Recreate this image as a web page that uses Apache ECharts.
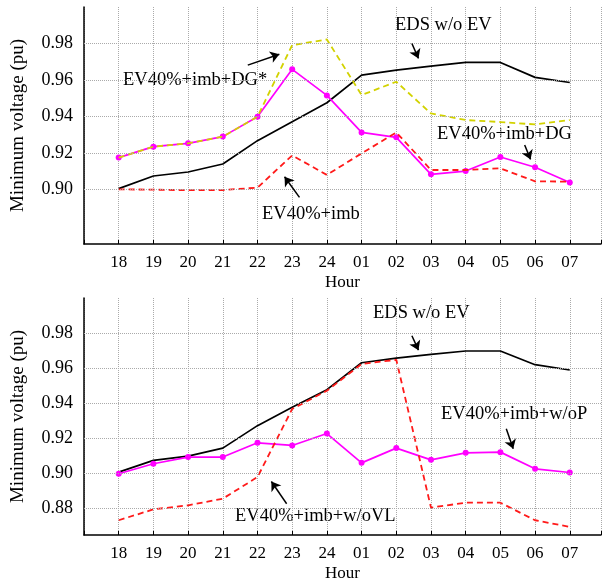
<!DOCTYPE html>
<html>
<head>
<meta charset="utf-8">
<title>Minimum voltage</title>
<script src="https://cdn.jsdelivr.net/npm/echarts@6/dist/echarts.min.js"></script>
<style>
  html, body { margin: 0; padding: 0; background: #fff; }
  #chart { width: 604px; height: 585px; }
</style>
</head>
<body>
<div id="chart"></div>
<script>
var hours = ['18','19','20','21','22','23','24','01','02','03','04','05','06','07'];

// top panel
var edsTop   = [0.9004,0.9073,0.9095,0.9139,0.9267,0.9371,0.9475,0.9626,0.9654,0.9676,0.9696,0.9696,0.9614,0.9586];
var imbDG    = [0.9174,0.9234,0.9252,0.9289,0.9398,0.9658,0.9515,0.9312,0.9285,0.9082,0.9100,0.9177,0.9121,0.9037];
var imbDGs   = [0.9174,0.9234,0.9252,0.9289,0.9398,0.9791,0.9822,0.9517,0.9590,0.9416,0.9380,0.9369,0.9356,0.9380];
var imb      = [0.9000,0.8998,0.8995,0.8996,0.9009,0.9186,0.9079,0.9197,0.9312,0.9106,0.9106,0.9115,0.9044,0.9042];

// bottom panel
var edsBot   = [0.9008,0.9075,0.9099,0.9145,0.9273,0.9378,0.9478,0.9631,0.9658,0.9679,0.9698,0.9698,0.9620,0.9590];
var imbWoP   = [0.8999,0.9056,0.9094,0.9094,0.9175,0.9160,0.9228,0.9061,0.9145,0.9078,0.9118,0.9122,0.9027,0.9006];
var imbWoVL  = [0.8734,0.8796,0.8819,0.8857,0.8980,0.9368,0.9472,0.9624,0.9648,0.8806,0.8834,0.8834,0.8734,0.8696];

var yTicksTop = [0.90, 0.92, 0.94, 0.96, 0.98];
var yTicksBot = [0.88, 0.90, 0.92, 0.94, 0.96, 0.98];

var FONT = 'Liberation Serif';
var pts = function (arr) { return arr.map(function (v, i) { return [i, v]; }); };

function yLabel(list) {
  return function (v) {
    for (var i = 0; i < list.length; i++) {
      if (Math.abs(list[i] - v) < 1e-6) return list[i].toFixed(2);
    }
    return '';
  };
}

function xAxisOf(idx) {
  return {
    type: 'value', gridIndex: idx, min: -1, max: 13.9, interval: 1,
    name: 'Hour', nameLocation: 'middle', nameGap: 30,
    nameTextStyle: { fontFamily: FONT, fontSize: 17, color: '#000' },
    axisLine: { onZero: false, lineStyle: { color: '#000', width: 1.5 } },
    axisTick: { inside: true, length: 4, lineStyle: { color: '#000' } },
    axisLabel: {
      fontFamily: FONT, fontSize: 17, color: '#000', margin: 10,
      formatter: function (v) { return hours[v] || ''; }
    },
    splitLine: { show: true, lineStyle: { type: 'dotted', color: '#aaa' } }
  };
}

function yAxisOf(idx, min, step, list) {
  return {
    type: 'value', gridIndex: idx, min: min, max: 1.0, interval: step,
    name: 'Minimum voltage (pu)', nameLocation: 'middle', nameGap: 56,
    nameTextStyle: { fontFamily: FONT, fontSize: 19, color: '#000' },
    axisLine: { show: true, onZero: false, lineStyle: { color: '#000', width: 1.5 } },
    axisTick: { show: false },
    axisLabel: { fontFamily: FONT, fontSize: 18, color: '#000', margin: 11, formatter: yLabel(list) },
    splitLine: { show: false }
  };
}

function gridLines(idx, list) {
  return {
    type: 'line', xAxisIndex: idx, yAxisIndex: idx, data: [], z: 1, silent: true,
    markLine: {
      silent: true, symbol: 'none', label: { show: false },
      lineStyle: { type: 'dotted', color: '#aaa', width: 1 },
      data: list.map(function (v) { return { yAxis: v }; })
    }
  };
}

function arrows(idx, list) {
  return {
    type: 'line', xAxisIndex: idx, yAxisIndex: idx, data: [], z: 5, silent: true,
    markLine: {
      silent: true, symbol: ['none', 'arrow'], symbolSize: 9, label: { show: false },
      lineStyle: { type: 'solid', color: '#000', width: 1.5 },
      data: list.map(function (a) { return [{ coord: a[0] }, { coord: a[1] }]; })
    }
  };
}

function solid(idx, data, color, marker) {
  return {
    type: 'line', xAxisIndex: idx, yAxisIndex: idx, data: pts(data), z: 3,
    symbol: marker ? 'circle' : 'none', symbolSize: 6, showSymbol: !!marker,
    itemStyle: { color: color }, lineStyle: { color: color, width: 1.7 },
    animation: false
  };
}

function dashed(idx, data, color) {
  return {
    type: 'line', xAxisIndex: idx, yAxisIndex: idx, data: pts(data), z: 4,
    symbol: 'none', lineStyle: { color: color, width: 1.8, type: [6, 4] },
    animation: false
  };
}

function note(x, y, text) {
  return { type: 'text', left: x, top: y, style: { text: text, font: '18.5px "' + FONT + '"', fill: '#000' } };
}

var chart = echarts.init(document.getElementById('chart'));
chart.setOption({
  animation: false,
  grid: [
    { left: 84, right: 0, top: 7, height: 237 },
    { left: 84, right: 0, top: 298, height: 237 }
  ],
  xAxis: [xAxisOf(0), xAxisOf(1)],
  yAxis: [yAxisOf(0, 0.87, 0.01, yTicksTop), yAxisOf(1, 0.865, 0.005, yTicksBot)],
  series: [
    gridLines(0, yTicksTop),
    gridLines(1, yTicksBot),
    dashed(0, imbDGs, '#d2d200'),
    dashed(0, imb, '#ff1a1a'),
    solid(0, edsTop, '#000000', false),
    solid(0, imbDG, '#ff00ff', true),
    dashed(1, imbWoVL, '#ff1a1a'),
    solid(1, edsBot, '#000000', false),
    solid(1, imbWoP, '#ff00ff', true),
    arrows(0, [
      [[3.72, 0.9681], [4.63, 0.9741]],
      [[8.45, 0.9800], [8.64, 0.9718]],
      [[11.70, 0.9243], [11.87, 0.9164]],
      [[5.21, 0.8956], [4.78, 0.9069]]
    ]),
    arrows(1, [
      [[8.45, 0.9785], [8.64, 0.9703]],
      [[11.17, 0.9255], [11.37, 0.9141]],
      [[4.84, 0.8828], [4.40, 0.8955]]
    ])
  ],
  graphic: [
    note(123, 71, 'EV40%+imb+DG*'),
    note(395, 16, 'EDS w/o EV'),
    note(437, 125, 'EV40%+imb+DG'),
    note(262, 205, 'EV40%+imb'),
    note(373, 304, 'EDS w/o EV'),
    note(441, 405, 'EV40%+imb+w/oP'),
    note(235, 507, 'EV40%+imb+w/oVL')
  ]
});
</script>
</body>
</html>
